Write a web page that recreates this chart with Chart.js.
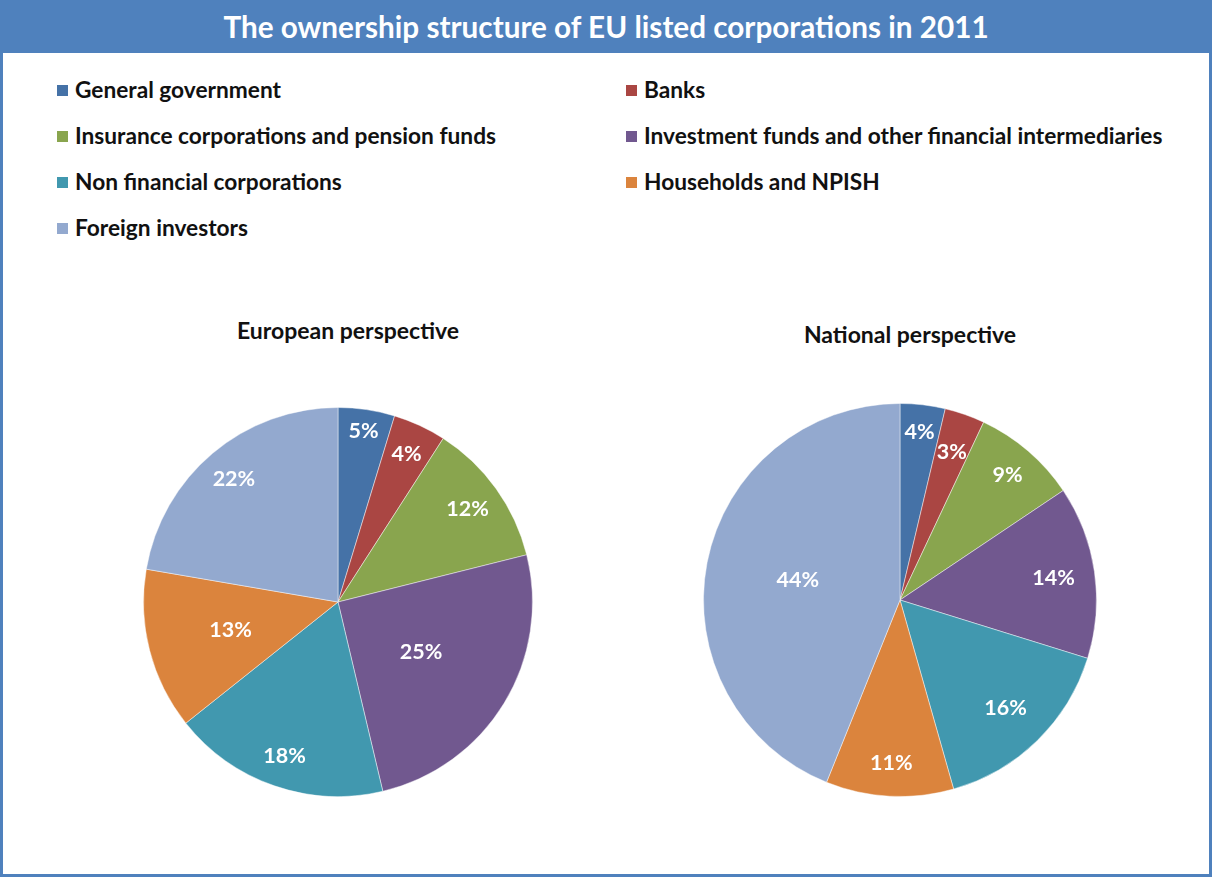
<!DOCTYPE html>
<html>
<head>
<meta charset="utf-8">
<script src="https://cdn.jsdelivr.net/npm/chart.js@4"></script>
<style>
  html, body { margin: 0; padding: 0; background: #fff; }
  #frame {
    position: relative; width: 1212px; height: 877px; box-sizing: border-box;
    border: 3px solid #4F81BD; font-family: Lato, "Open Sans", sans-serif; overflow: hidden;
  }
  #title {
    position: absolute; left: -3px; top: -3px; width: 1212px; height: 53px;
    background: #4F81BD; color: #fff; font-weight: bold; font-size: 29.7px;
    text-align: center; line-height: 53px;
  }
  .leg { position: absolute; font-weight: bold; font-size: 22.7px; color: #111; white-space: nowrap; line-height: 26px; }
  .leg span { display: inline-block; width: 11px; height: 11px; margin-right: 7px; vertical-align: 2px; }
  .sub { position: absolute; font-weight: bold; font-size: 23px; color: #111; width: 400px; text-align: center; }
  canvas { position: absolute; }
</style>
</head>
<body>
<div id="frame">
  <div id="title">The ownership structure of EU listed corporations in 2011</div>
  <div id="legend"></div>
  <div class="sub" style="left:145px; top:313px;">European perspective</div>
  <div class="sub" style="left:707px; top:317px;">National perspective</div>
  <canvas id="chart1" width="390" height="390" style="left:140px; top:404px;"></canvas>
  <canvas id="chart2" width="394" height="394" style="left:700px; top:400px;"></canvas>
</div>
<script>
const categories = ["General government", "Banks", "Insurance corporations and pension funds",
  "Investment funds and other financial intermediaries", "Non financial corporations",
  "Households and NPISH", "Foreign investors"];
const colors = ['#4572A7', '#AA4643', '#89A54E', '#71588F', '#4198AF', '#DB843D', '#93A9CF'];
const europeanValues = [4.7, 4.4, 12.0, 25.2, 18.0, 13.4, 22.3];
const nationalValues = [3.7, 3.3, 8.6, 14.2, 15.8, 10.5, 43.9];

// legend, two columns
const legend = document.getElementById('legend');
categories.forEach((name, i) => {
  const d = document.createElement('div');
  d.className = 'leg';
  d.style.left = (i % 2 === 0 ? 54 : 623) + 'px';
  d.style.top = (74 + Math.floor(i / 2) * 46) + 'px';
  d.innerHTML = '<span style="background:' + colors[i] + '"></span>' + name;
  legend.appendChild(d);
});

// percentage labels inside the slices
const sliceLabels = {
  id: 'sliceLabels',
  afterDatasetsDraw(chart, args, opts) {
    const ctx = chart.ctx;
    const data = chart.data.datasets[0].data;
    const total = data.reduce((a, b) => a + b, 0);
    ctx.save();
    ctx.fillStyle = '#fff';
    ctx.font = 'bold 21.5px Lato, "Open Sans", sans-serif';
    ctx.textAlign = 'center';
    ctx.textBaseline = 'middle';
    chart.getDatasetMeta(0).data.forEach((arc, i) => {
      const mid = (arc.startAngle + arc.endAngle) / 2;
      const r = arc.outerRadius * opts.radius[i];
      ctx.fillText(Math.round(data[i] / total * 100) + '%', arc.x + Math.cos(mid) * r, arc.y + Math.sin(mid) * r);
    });
    ctx.restore();
  }
};

function makePie(id, values, radius) {
  return new Chart(document.getElementById(id).getContext('2d'), {
    type: 'pie',
    data: {
      labels: categories,
      datasets: [{
        data: values,
        backgroundColor: colors,
        borderColor: 'rgba(255,255,255,0.45)',
        borderWidth: 1
      }]
    },
    options: {
      responsive: false,
      animation: false,
      layout: { padding: 0 },
      plugins: {
        legend: { display: false },
        tooltip: { enabled: false },
        sliceLabels: { radius: radius }
      }
    },
    plugins: [sliceLabels]
  });
}

makePie('chart1', europeanValues, [0.89, 0.84, 0.82, 0.50, 0.84, 0.57, 0.83]);
makePie('chart2', nationalValues, [0.86, 0.80, 0.84, 0.79, 0.77, 0.83, 0.53]);
</script>
</body>
</html>
